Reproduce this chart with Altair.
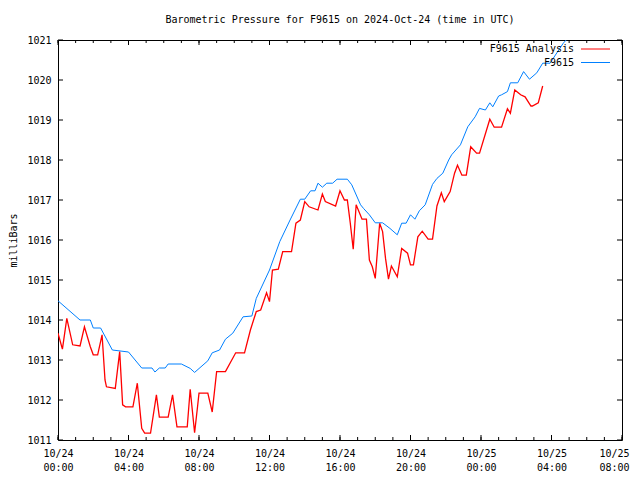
import altair as alt
import pandas as pd

# ---- data (time in UTC) ----
f9615_time = [
    "24 00:00", "24 01:15", "24 01:50", "24 02:00", "24 02:25", "24 03:05", "24 04:00",
    "24 04:45", "24 05:20", "24 05:30", "24 05:45", "24 06:05", "24 06:15", "24 07:00",
    "24 07:30", "24 07:45", "24 08:30", "24 08:45", "24 09:10", "24 09:30", "24 09:55",
    "24 10:30", "24 11:00", "24 11:15", "24 12:00", "24 12:35", "24 13:10", "24 13:45",
    "24 14:00", "24 14:20", "24 14:35", "24 14:45", "24 15:00", "24 15:15", "24 15:35",
    "24 15:50", "24 16:25", "24 16:40", "24 17:10", "24 17:20", "24 17:40", "24 18:00",
    "24 18:25", "24 18:50", "24 19:15", "24 19:30", "24 19:45", "24 20:00", "24 20:15",
    "24 20:30", "24 20:50", "24 21:15", "24 21:30", "24 21:50", "24 22:10", "24 22:20",
    "24 22:50", "24 23:15", "24 23:40", "24 23:55", "25 00:15", "25 00:30", "25 00:40",
    "25 01:00", "25 01:10", "25 01:30", "25 01:40", "25 02:05", "25 02:25", "25 02:45",
    "25 03:10", "25 03:30", "25 03:55", "25 04:40", "25 04:50",
]
f9615_mb = [
    1014.48, 1014.00, 1014.00, 1013.80, 1013.80, 1013.25, 1013.20,
    1012.80, 1012.80, 1012.70, 1012.80, 1012.80, 1012.90, 1012.90,
    1012.79, 1012.69, 1012.98, 1013.18, 1013.25, 1013.52, 1013.67,
    1014.08, 1014.10, 1014.54, 1015.25, 1015.96, 1016.50, 1017.02,
    1017.02, 1017.23, 1017.23, 1017.42, 1017.32, 1017.42, 1017.42,
    1017.52, 1017.52, 1017.38, 1016.88, 1016.79, 1016.63, 1016.43,
    1016.43, 1016.29, 1016.13, 1016.42, 1016.42, 1016.63, 1016.52,
    1016.73, 1016.88, 1017.39, 1017.54, 1017.67, 1018.00, 1018.13,
    1018.38, 1018.83, 1019.08, 1019.29, 1019.25, 1019.43, 1019.33,
    1019.60, 1019.63, 1019.71, 1019.93, 1019.93, 1020.21, 1020.02,
    1020.18, 1020.42, 1020.42, 1020.92, 1021.00,
]

analysis_time = [
    "24 00:00", "24 00:15", "24 00:30", "24 00:50", "24 01:15", "24 01:30", "24 01:50",
    "24 02:00", "24 02:15", "24 02:30", "24 02:40", "24 02:45", "24 03:15", "24 03:30",
    "24 03:40", "24 03:50", "24 04:15", "24 04:30", "24 04:45", "24 04:55", "24 05:15",
    "24 05:35", "24 05:45", "24 06:15", "24 06:30", "24 06:45", "24 07:20", "24 07:30",
    "24 07:45", "24 07:55", "24 08:00", "24 08:30", "24 08:45", "24 09:00", "24 09:30",
    "24 10:05", "24 10:35", "24 10:55", "24 11:15", "24 11:30", "24 11:50", "24 12:00",
    "24 12:10", "24 12:30", "24 12:45", "24 13:15", "24 13:30", "24 13:45", "24 14:00",
    "24 14:15", "24 14:45", "24 15:00", "24 15:10", "24 15:45", "24 16:00", "24 16:15",
    "24 16:25", "24 16:35", "24 16:45", "24 16:55", "24 17:15", "24 17:30", "24 17:40",
    "24 17:50", "24 18:00", "24 18:15", "24 18:25", "24 18:35", "24 18:45", "24 18:55",
    "24 19:15", "24 19:30", "24 19:50", "24 20:00", "24 20:10", "24 20:25", "24 20:40",
    "24 21:00", "24 21:15", "24 21:30", "24 21:45", "24 21:55", "24 22:15", "24 22:30",
    "24 22:40", "24 22:55", "24 23:10", "24 23:25", "24 23:45", "24 23:55", "25 00:30",
    "25 00:45", "25 01:10", "25 01:30", "25 01:40", "25 01:55", "25 02:15", "25 02:30",
    "25 02:50", "25 02:55", "25 03:15", "25 03:30",
]
analysis_mb = [
    1013.67, 1013.27, 1014.04, 1013.38, 1013.35, 1013.83, 1013.33,
    1013.13, 1013.13, 1013.63, 1012.50, 1012.33, 1012.29, 1013.21,
    1011.88, 1011.83, 1011.83, 1012.42, 1011.29, 1011.17, 1011.17,
    1012.13, 1011.57, 1011.57, 1012.13, 1011.33, 1011.33, 1012.27,
    1011.18, 1011.83, 1012.17, 1012.17, 1011.70, 1012.71, 1012.71,
    1013.18, 1013.18, 1013.75, 1014.21, 1014.25, 1014.68, 1014.46,
    1015.25, 1015.27, 1015.71, 1015.71, 1016.42, 1016.50, 1016.96,
    1016.83, 1016.75, 1017.15, 1016.96, 1016.85, 1017.23, 1017.00,
    1017.00, 1016.42, 1015.77, 1016.88, 1016.52, 1016.52, 1015.50,
    1015.33, 1015.04, 1016.42, 1016.21, 1015.54, 1015.02, 1015.35,
    1015.08, 1015.79, 1015.67, 1015.38, 1015.38, 1016.08, 1016.22,
    1016.02, 1016.02, 1016.85, 1017.18, 1016.96, 1017.21, 1017.67,
    1017.87, 1017.62, 1017.62, 1018.33, 1018.17, 1018.17, 1019.02,
    1018.82, 1018.82, 1019.28, 1019.17, 1019.75, 1019.63, 1019.58,
    1019.35, 1019.35, 1019.43, 1019.85,
]

major_hours = [0, 4, 8, 12, 16, 20, 24, 28, 32]
minor_hours = list(range(0, 33))
y_ticks = [1011, 1012, 1013, 1014, 1015, 1016, 1017, 1018, 1019, 1020, 1021]
series_names = ["F9615 Analysis", "F9615"]
series_colors = ["#ff0000", "#0080ff"]

W, H = 564, 400
FONT = "DejaVu Sans Mono"


def iso(s):
    d, hm = s.split(" ")
    return f"2024-10-{d}T{hm}:00Z"


def hour_iso(h):
    return f"2024-10-{24 + h // 24}T{h % 24:02d}:00:00Z"


def dt(h):
    return alt.DateTime(year=2024, month=10, date=24 + h // 24, hours=h % 24, utc=True)


blue_df = pd.DataFrame({"t": [iso(s) for s in f9615_time], "mb": f9615_mb})
red_df = pd.DataFrame({"t": [iso(s) for s in analysis_time], "mb": analysis_mb})
major_df = pd.DataFrame({"t": [hour_iso(h) for h in major_hours]})
minor_df = pd.DataFrame({"t": [hour_iso(h) for h in minor_hours]})
ytick_df = pd.DataFrame({"mb": y_ticks})

# the last tick label sits at the canvas edge: nudge it left so it stays visible
last_ms = int(pd.Timestamp(hour_iso(30)).value // 10**6)

xscale = alt.Scale(type="utc", domain=[dt(0), dt(32)])
yscale = alt.Scale(domain=[1011, 1021], nice=False, zero=False)

x_axis = alt.Axis(
    values=[dt(h) for h in major_hours],
    labelExpr="[utcFormat(datum.value, '%m/%d'), utcFormat(datum.value, '%H:%M')]",
    labelFont=FONT, labelFontSize=10, labelColor="black", labelLineHeight=14,
    labelPadding=8, labelFlush=False, labelOverlap=False,
    labelOffset={"condition": {"test": f"datum.value > {last_ms}", "value": -8}, "value": 0},
    tickSize=0, domain=False, grid=False, title=None,
)
y_axis = alt.Axis(
    values=y_ticks, format="d",
    labelFont=FONT, labelFontSize=10, labelColor="black", labelPadding=7,
    tickSize=0, domain=False, grid=False,
    title="milliBars", titleFont=FONT, titleFontSize=10, titleFontWeight="normal",
    titleColor="black", titleAngle=270, titleX=-45, titleY=H / 2,
    titleAlign="center", titleBaseline="middle",
)

X = alt.X("t:T", scale=xscale, axis=x_axis)
Y = alt.Y("mb:Q", scale=yscale, axis=y_axis)

red_line = alt.Chart(red_df).mark_line(color=series_colors[0], strokeWidth=1.3, clip=True).encode(x=X, y=Y)
blue_line = alt.Chart(blue_df).mark_line(color=series_colors[1], strokeWidth=1.0, clip=True).encode(x=X, y=Y)

tick_style = dict(color="black", strokeWidth=1)
maj_bot = alt.Chart(major_df).mark_rule(**tick_style).encode(x=X, y=alt.value(H), y2=alt.value(H - 5))
maj_top = alt.Chart(major_df).mark_rule(**tick_style).encode(x=X, y=alt.value(0), y2=alt.value(5))
min_bot = alt.Chart(minor_df).mark_rule(**tick_style).encode(x=X, y=alt.value(H), y2=alt.value(H - 3))
min_top = alt.Chart(minor_df).mark_rule(**tick_style).encode(x=X, y=alt.value(0), y2=alt.value(3))
y_left = alt.Chart(ytick_df).mark_rule(**tick_style).encode(y=Y, x=alt.value(0), x2=alt.value(5))
y_right = alt.Chart(ytick_df).mark_rule(**tick_style).encode(y=Y, x=alt.value(W), x2=alt.value(W - 5))

legend_layers = []
for i, (name, col) in enumerate(zip(series_names, series_colors)):
    ly = 9 + 13.5 * i
    ldf = pd.DataFrame({"label": [name]})
    legend_layers.append(
        alt.Chart(ldf).mark_text(font=FONT, fontSize=10, align="right", baseline="middle", color="black")
        .encode(text="label:N", x=alt.value(W - 48), y=alt.value(ly))
    )
    legend_layers.append(
        alt.Chart(ldf).mark_rule(color=col, strokeWidth=1.0)
        .encode(x=alt.value(W - 41), x2=alt.value(W - 12), y=alt.value(ly))
    )

chart = alt.layer(
    red_line, blue_line, maj_bot, maj_top, min_bot, min_top, y_left, y_right, *legend_layers
).properties(
    width=W, height=H,
    title=alt.TitleParams(
        "Barometric Pressure for F9615 on 2024-Oct-24 (time in UTC)",
        font=FONT, fontSize=10, fontWeight="normal", color="black",
        anchor="middle", offset=10,
    ),
    autosize=alt.AutoSizeParams(type="none"),
    padding={"left": 50, "top": 32, "right": 10, "bottom": 32},
    background="white",
).configure_view(stroke="black", strokeWidth=1)

chart.save("out.html", embed_options={"renderer": "svg", "actions": False})
